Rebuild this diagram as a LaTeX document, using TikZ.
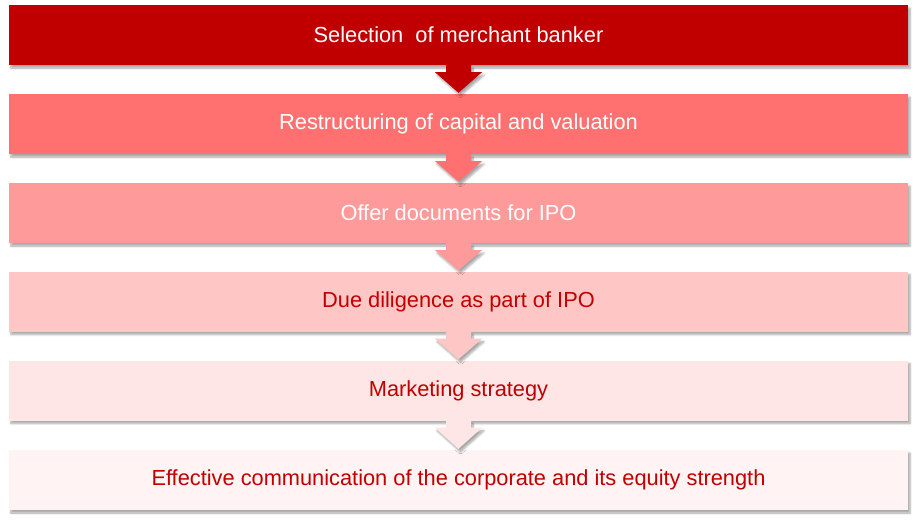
\documentclass[tikz,border=0pt]{standalone}
\usepackage{fontspec}
\setmainfont{Liberation Sans}
\usetikzlibrary{shadows.blur}
\definecolor{cA}{HTML}{C00000}
\definecolor{cB}{HTML}{FF7171}
\definecolor{cC}{HTML}{FF9A9A}
\definecolor{cD}{HTML}{FFC6C6}
\definecolor{cE}{HTML}{FFE6E6}
\definecolor{cF}{HTML}{FFF3F3}
\tikzset{
  stepbox/.style={draw=none, minimum width=899pt, minimum height=60pt, inner sep=0pt,
    font=\fontsize{21.8}{24}\selectfont, blur shadow={shadow xshift=2pt, shadow yshift=-3pt, shadow blur steps=6, shadow opacity=35}},
  flowarrow/.style={draw=none, blur shadow={shadow xshift=2pt, shadow yshift=-3pt, shadow blur steps=6, shadow opacity=35}}
}
\begin{document}
\begin{tikzpicture}[x=1pt,y=-1pt]
\useasboundingbox (0,0) rectangle (918,522);
\node[stepbox, fill=cA, text=white] (b1) at (458.5,35) {Selection\ \ of merchant banker};
\node[stepbox, fill=cB, text=white] (b2) at (458.5,124) {Restructuring of capital and valuation};
\node[stepbox, fill=cC, text=white] (b3) at (458.5,213) {Offer documents for IPO};
\node[stepbox, fill=cD, text=cA] (b4) at (458.5,301.5) {Due diligence as part of IPO};
\node[stepbox, fill=cE, text=cA] (b5) at (458.5,390.5) {Marketing strategy};
\node[stepbox, fill=cF, text=cA] (b6) at (458.5,480) {Effective communication of the corporate and its equity strength};
\foreach \a/\b/\c in {b1/b2/cA, b2/b3/cB, b3/b4/cC, b4/b5/cD, b5/b6/cE}{
  \fill[\c, flowarrow] ([xshift=-12.5pt]\a.south) -- ([xshift=-12.5pt,yshift=-7pt]\a.south)
    -- ([xshift=-23.5pt,yshift=-7pt]\a.south) -- ([yshift=1pt]\b.north)
    -- ([xshift=23.5pt,yshift=-7pt]\a.south) -- ([xshift=12.5pt,yshift=-7pt]\a.south)
    -- ([xshift=12.5pt]\a.south) -- cycle;
}
\end{tikzpicture}
\end{document}
